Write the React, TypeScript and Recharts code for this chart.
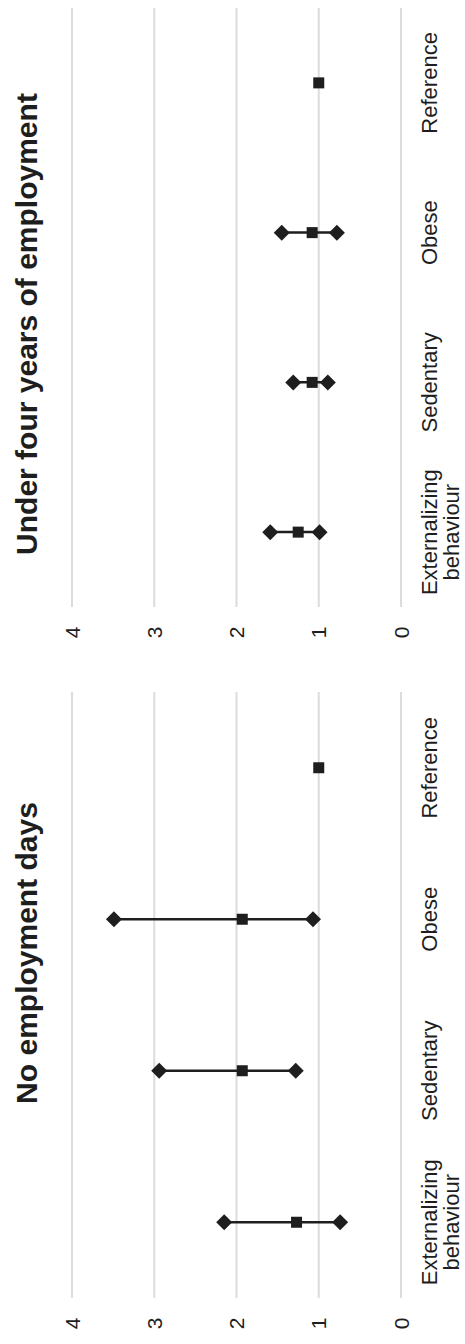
import React from "react";
import { ComposedChart, XAxis, YAxis, CartesianGrid, Bar, Scatter } from "recharts";

const categories = ["Externalizing behaviour", "Sedentary", "Obese", "Reference"];
const valueTicks = [0, 1, 2, 3, 4];

const noEmpEstimate = [1.27, 1.93, 1.93, 1.0];
const noEmpLower = [0.74, 1.28, 1.07, null];
const noEmpUpper = [2.15, 2.94, 3.49, null];

const underFourEstimate = [1.25, 1.08, 1.08, 1.0];
const underFourLower = [0.99, 0.89, 0.78, null];
const underFourUpper = [1.59, 1.31, 1.45, null];

const titles = ["No employment days", "Under four years of employment"];

const FONT = "'Liberation Sans', Arial, sans-serif";
const INK = "#1e1e1e";

function buildRows(est: (number | null)[], low: (number | null)[], high: (number | null)[]) {
  return categories.map((cat, i) => ({
    cat,
    est: est[i],
    low: low[i],
    high: high[i],
    range: low[i] != null && high[i] != null ? [low[i], high[i]] : null,
  }));
}

const CatTick = (props: any) => {
  const { x, y, payload } = props;
  const lines = String(payload.value).split(" ");
  return (
    <text x={x} y={y} textAnchor="middle" fontFamily={FONT} fontSize={22} fill={INK}>
      {lines.map((l, i) => (
        <tspan key={i} x={x} y={y + 36 + i * 22}>
          {l}
        </tspan>
      ))}
    </text>
  );
};

const ValTick = (props: any) => {
  const { x, y, payload } = props;
  return (
    <text x={x - 25.5} y={y} dy="0.36em" textAnchor="middle" fontFamily={FONT} fontSize={21} fill={INK}>
      {payload.value}
    </text>
  );
};

const RangeLine = (props: any) => {
  const { x, y, width, height, payload } = props;
  if (!payload || payload.range == null) return <g />;
  const cx = x + width / 2;
  return <line x1={cx} x2={cx} y1={y} y2={y + height} stroke={INK} strokeWidth={2.5} />;
};

const makeDiamond = (key: string) => (props: any) => {
  const { cx, cy, payload } = props;
  if (!payload || payload[key] == null || cx == null || cy == null) return <g />;
  const r = 8;
  return <polygon points={`${cx},${cy - r} ${cx + r},${cy} ${cx},${cy + r} ${cx - r},${cy}`} fill={INK} />;
};

const SquareShape = (props: any) => {
  const { cx, cy, payload } = props;
  if (!payload || payload.est == null || cx == null || cy == null) return <g />;
  const s = 11;
  return <rect x={cx - s / 2} y={cy - s / 2} width={s} height={s} fill={INK} />;
};

function Panel({ rows, yAxisWidth, marginRight }: { rows: any[]; yAxisWidth: number; marginRight: number }) {
  return (
    <ComposedChart
      width={672}
      height={465}
      data={rows}
      margin={{ top: 72, right: marginRight, bottom: 0, left: 0 }}
    >
      <CartesianGrid vertical={false} stroke="#dcdcdc" strokeWidth={2} />
      <XAxis
        dataKey="cat"
        type="category"
        height={64}
        axisLine={false}
        tickLine={false}
        tickSize={0}
        tickMargin={0}
        interval={0}
        tick={CatTick}
      />
      <YAxis
        type="number"
        domain={[0, 4]}
        ticks={valueTicks}
        width={yAxisWidth}
        axisLine={false}
        tickLine={false}
        tickSize={0}
        tickMargin={0}
        tick={ValTick}
        interval={0}
      />
      <Bar dataKey="range" shape={RangeLine} isAnimationActive={false} />
      <Scatter dataKey="low" shape={makeDiamond("low")} isAnimationActive={false} />
      <Scatter dataKey="high" shape={makeDiamond("high")} isAnimationActive={false} />
      <Scatter dataKey="est" shape={SquareShape} isAnimationActive={false} />
    </ComposedChart>
  );
}

export default function App() {
  const leftRows = buildRows(noEmpEstimate, noEmpLower, noEmpUpper);
  const rightRows = buildRows(underFourEstimate, underFourLower, underFourUpper);
  return (
    <div style={{ position: "absolute", left: 0, top: 0, width: 465, height: 1344, overflow: "hidden", background: "#fff" }}>
      <div
        style={{
          position: "absolute",
          left: 0,
          top: 0,
          width: 1344,
          height: 465,
          transformOrigin: "0 0",
          transform: "translateY(1344px) rotate(-90deg)",
          background: "#fff",
        }}
      >
        <div style={{ position: "absolute", left: 0, top: 0 }}>
          <Panel rows={leftRows} yAxisWidth={46} marginRight={20} />
        </div>
        <div style={{ position: "absolute", left: 672, top: 0 }}>
          <Panel rows={rightRows} yAxisWidth={65} marginRight={8} />
        </div>
        <svg width={1344} height={60} style={{ position: "absolute", left: 0, top: 0, pointerEvents: "none" }}>
          <text x={391} y={37} textAnchor="middle" fontFamily={FONT} fontWeight="bold" fontSize={30} fill={INK}>
            {titles[0]}
          </text>
          <text x={1020} y={37} textAnchor="middle" fontFamily={FONT} fontWeight="bold" fontSize={30} fill={INK}>
            {titles[1]}
          </text>
        </svg>
      </div>
    </div>
  );
}
